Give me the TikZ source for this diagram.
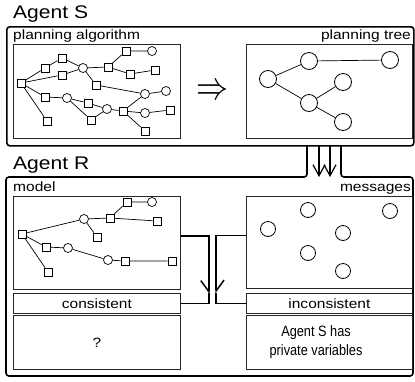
\documentclass[tikz,border=0pt]{standalone}
\usepackage{graphicx}
\usepackage{fontspec}
\setmainfont{Liberation Sans}[FakeStretch=1.15]
\newfontfamily\narrowfont{Liberation Sans}[FakeStretch=0.85]
\usetikzlibrary{arrows.meta}

\tikzset{
  agentbox/.style={draw, line width=1.6pt, rounded corners=3pt},
  panel/.style={draw=black!85, line width=0.8pt, anchor=north west, inner sep=0pt},
  sq/.style={draw, line width=0.7pt, minimum size=8pt, inner sep=0pt},
  ci/.style={draw, circle, line width=0.7pt, minimum size=9pt, inner sep=0pt},
  bigci/.style={draw, circle, line width=0.8pt, minimum size=17pt, inner sep=0pt},
  msgci/.style={draw, circle, line width=0.8pt, minimum size=15pt, inner sep=0pt},
  edge/.style={line width=0.7pt},
  lbl/.style={font=\fontsize{13.5}{18}\selectfont, inner sep=0pt},
  agenttitle/.style={font=\fontsize{18.3}{20}\selectfont, inner sep=0pt, anchor=base west},
  pipe/.style={line width=1.5pt},
  flow/.style={line width=1.2pt,-{Straight Barb[length=11pt,width=12pt]}},
}

\begin{document}
\begin{tikzpicture}[x=1pt,y=-1pt]
\useasboundingbox (0,0) rectangle (415,381);

% agent S
\node[agenttitle] (titleS) at (13,18) {Agent S};
\node[agentbox, anchor=north west, minimum width=407pt, minimum height=119pt, inner sep=0pt] (agentS) at (6,26) {};
\node[lbl, anchor=base west] (algtxt) at (13,39) {planning algorithm};
\node[lbl, anchor=base east] (treetxt) at (411,39) {planning tree};
\node[panel, minimum width=167pt, minimum height=94pt] (alg) at (13,44) {};
\node[panel, minimum width=166pt, minimum height=94pt] (tree) at (246,44) {};
\node (impl) at (212,92) {\scalebox{3.2}[4]{$\Rightarrow$}};

% search graph
\node[sq] (pa0) at (21,83) {};
\node[sq] (pa1) at (45,68) {};
\node[sq] (pa2) at (62,58) {};
\node[ci] (pa3) at (83,68) {};
\node[sq] (pa4) at (62,75) {};
\node[sq] (pa5) at (108,67) {};
\node[sq] (pa6) at (126,51) {};
\node[ci] (pa7) at (152,51) {};
\node[sq] (pa8) at (130,74) {};
\node[sq] (pa9) at (155,70) {};
\node[sq] (pa10) at (96,85) {};
\node[ci] (pa11) at (145,94) {};
\node[ci] (pa12) at (166,91) {};
\node[sq] (pa13) at (45,97) {};
\node[ci] (pa14) at (67,98) {};
\node[sq] (pa15) at (88,103) {};
\node[ci] (pa16) at (107,109) {};
\node[sq] (pa17) at (91,120) {};
\node[sq] (pa18) at (123,111) {};
\node[ci] (pa19) at (145,113) {};
\node[sq] (pa20) at (170,110) {};
\node[sq] (pa21) at (145,131) {};
\node[sq] (pa22) at (47,121) {};

\draw[edge] (pa0) -- (pa1) (pa1) -- (pa2) (pa2) -- (pa3) (pa0) -- (pa4) (pa4) -- (pa3);
\draw[edge] (pa3) -- (pa5) (pa5) -- (pa6) (pa6) -- (pa7) (pa5) -- (pa8) (pa8) -- (pa9);
\draw[edge] (pa3) -- (pa10) (pa10) -- (pa11) (pa11) -- (pa12);
\draw[edge] (pa0) -- (pa13) (pa13) -- (pa14) (pa14) -- (pa15) (pa15) -- (pa16);
\draw[edge] (pa14) -- (pa17) (pa17) -- (pa16) (pa16) -- (pa18) (pa18) -- (pa11);
\draw[edge] (pa18) -- (pa19) (pa19) -- (pa20) (pa18) -- (pa21) (pa0) -- (pa22);

% tree
\node[bigci] (pt1) at (268,79) {};
\node[bigci] (pt2) at (309,61) {};
\node[bigci] (pt3) at (390,60) {};
\node[bigci] (pt4) at (309,103) {};
\node[bigci] (pt5) at (343,82) {};
\node[bigci] (pt6) at (343,122) {};
\draw[edge] (pt1) -- (pt2) (pt2) -- (pt3) (pt1) -- (pt4) (pt4) -- (pt5) (pt4) -- (pt6);

% agent R
\node[agenttitle] (titleR) at (13,169) {Agent R};
\draw[agentbox] (307,145) -- (307,177) -- (6,177) -- (6,376) -- (413,376) -- (413,177) -- (341,177) -- (341,145);
\coordinate (outS1) at (319,145);
\coordinate (inR1) at (319,177);
\coordinate (outS2) at (330,145);
\coordinate (inR2) at (330,177);
\draw[flow] (outS1) -- (inR1);
\draw[flow] (outS2) -- (inR2);

\node[lbl, anchor=base west] (modeltxt) at (13,191) {model};
\node[lbl, anchor=base east] (msgtxt) at (411,191) {messages};
\node[panel, minimum width=167pt, minimum height=93pt] (model) at (13,196) {};
\node[panel, minimum width=166pt, minimum height=92pt] (msgs) at (246,196) {};
\node[panel, lbl, minimum width=167pt, minimum height=20pt] (consist) at (13,293) {consistent};
\node[panel, lbl, minimum width=166pt, minimum height=20pt] (incons) at (246,293) {inconsistent};
\node[panel, lbl, minimum width=167pt, minimum height=54pt] (unknown) at (13,315) {?};
\node[panel, minimum width=166pt, minimum height=54pt] (privvar) at (246,315) {};
\node[lbl, font=\narrowfont\fontsize{15}{18.5}\selectfont, align=center] (privtxt) at (316,342) {Agent S has\\private variables};

% model graph
\node[sq] (md0) at (22,234) {};
\node[ci] (md1) at (84,219) {};
\node[sq] (md2) at (110,218) {};
\node[sq] (md3) at (127,202) {};
\node[ci] (md4) at (152,202) {};
\node[sq] (md5) at (157,221) {};
\node[sq] (md6) at (97,237) {};
\node[sq] (md7) at (46,247) {};
\node[ci] (md8) at (68,248) {};
\node[ci] (md9) at (108,260) {};
\node[sq] (md10) at (125,261) {};
\node[sq] (md11) at (172,261) {};
\node[sq] (md12) at (48,272) {};
\draw[edge] (md0) -- (md1) (md1) -- (md2) (md2) -- (md3) (md3) -- (md4) (md2) -- (md5) (md1) -- (md6);
\draw[edge] (md0) -- (md7) (md7) -- (md8) (md8) -- (md9) (md9) -- (md10) (md10) -- (md11) (md0) -- (md12);

% messages
\node[msgci] (ms1) at (268,229) {};
\node[msgci] (ms2) at (308,210) {};
\node[msgci] (ms3) at (390,211) {};
\node[msgci] (ms4) at (343,233) {};
\node[msgci] (ms5) at (308,253) {};
\node[msgci] (ms6) at (343,271) {};

% checks
\draw[pipe,-{Straight Barb[harpoon,swap,length=11pt,width=16pt]}] ([yshift=7pt]model.east) -- ++(28,0) -- ++(0,58);
\draw[pipe] (consist.east) -- ++(28,0) -- ++(0,-10);
\draw[pipe,-{Straight Barb[harpoon,length=11pt,width=16pt]}] ([yshift=7pt]msgs.west) -- ++(-30,0) -- ++(0,58);
\draw[pipe] (incons.west) -- ++(-30,0) -- ++(0,-10);

\end{tikzpicture}
\end{document}
